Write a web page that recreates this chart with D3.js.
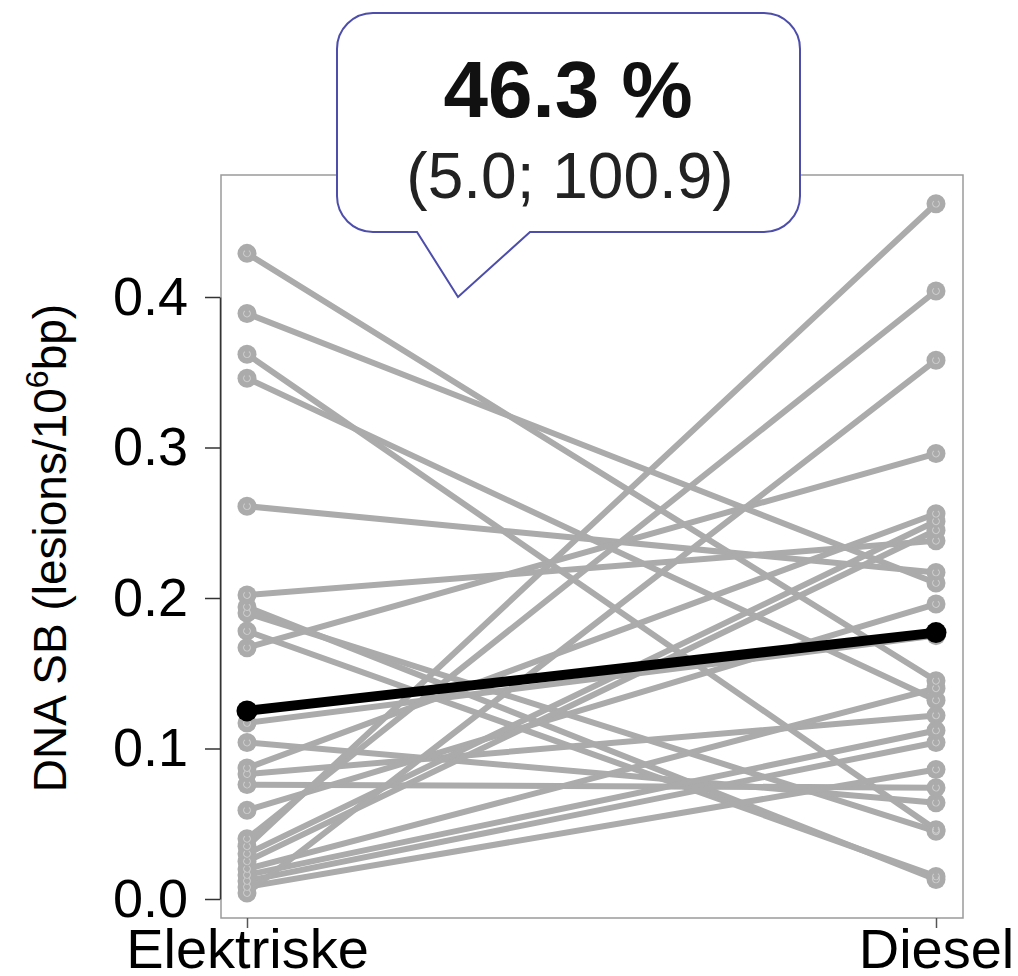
<!DOCTYPE html>
<html>
<head>
<meta charset="utf-8">
<script src="https://cdn.jsdelivr.net/npm/d3@7"></script>
<style>
  body { margin: 0; background: #fff; }
  svg { display: block; font-family: "Liberation Sans", Arial, sans-serif; }
</style>
</head>
<body>
<svg id="chart" width="1018" height="976"></svg>
<script>
// groups on the x axis
let groups = ['Elektriske', 'Diesel']
// each subject: value under electric vs diesel exposure
let elektriske = [0.429, 0.389, 0.362, 0.346, 0.261, 0.202, 0.194, 0.190, 0.178, 0.167,
    0.117, 0.104, 0.087, 0.083, 0.076, 0.059, 0.040, 0.035, 0.030, 0.025,
    0.020, 0.016, 0.012, 0.008, 0.004]
let diesel = [0.145, 0.210, 0.046, 0.132, 0.217, 0.238, 0.013, 0.045, 0.015, 0.296,
    0.175, 0.064, 0.256, 0.122, 0.074, 0.196, 0.404, 0.462, 0.251, 0.245,
    0.140, 0.112, 0.104, 0.086, 0.358]
let meanValues = [0.125, 0.177]
let yTicks = [0.0, 0.1, 0.2, 0.3, 0.4]
let changePct = 46.3
let changeCI = [5.0, 100.9]

const svg = d3.select('#chart')
let boxLeft = 221
let boxRight = 963
let boxTop = 175
let boxBottom = 918

let x = d3.scalePoint().domain(groups).range([247, 936])
let y = d3.scaleLinear().domain([0, 0.4]).range([899, 297])

// plot frame
svg.append('rect')
    .attr('x', boxLeft).attr('y', boxTop)
    .attr('width', boxRight - boxLeft).attr('height', boxBottom - boxTop)
    .style('fill', 'none').style('stroke', '#9a9a9a').style('stroke-width', 1.5)

let pairs = elektriske.map((v, i) => [v, diesel[i]])

svg.append('g').selectAll('line').data(pairs).enter()
    .append('line')
    .attr('x1', x(groups[0])).attr('x2', x(groups[1]))
    .attr('y1', d => y(d[0])).attr('y2', d => y(d[1]))
    .style('stroke', '#ababab').style('stroke-width', 6)
    .style('stroke-linecap', 'round')

let pts = []
pairs.forEach(p => {
    pts.push({g: groups[0], v: p[0]})
    pts.push({g: groups[1], v: p[1]})
})
svg.append('g').selectAll('circle').data(pts).enter()
    .append('circle')
    .attr('cx', d => x(d.g)).attr('cy', d => y(d.v))
    .attr('r', 9.5)
    .style('fill', '#ababab')
svg.append('g').selectAll('path').data(pts).enter()
    .append('path')
    .attr('transform', d => `translate(${x(d.g)},${y(d.v)})`)
    .attr('d', d3.arc()({innerRadius: 2.8, outerRadius: 3.9, startAngle: 0.6, endAngle: 5.6}))
    .style('fill', '#cdcdcd')

// mean line
svg.append('line')
    .attr('x1', x(groups[0])).attr('x2', x(groups[1]))
    .attr('y1', y(meanValues[0])).attr('y2', y(meanValues[1]))
    .style('stroke', '#000').style('stroke-width', 10)
svg.append('g').selectAll('circle').data(meanValues).enter()
    .append('circle')
    .attr('cx', (d, i) => x(groups[i])).attr('cy', d => y(d))
    .attr('r', 10.5)
    .style('fill', '#000')

// y axis
let yAxis = svg.append('g')
    .attr('transform', `translate(${boxLeft - 1},0)`)
    .call(d3.axisLeft(y).tickValues(yTicks).tickFormat(d3.format('.1f'))
        .tickSize(15).tickSizeOuter(0).tickPadding(17))
yAxis.selectAll('path, line').style('stroke', '#333').style('stroke-width', 1.5)
yAxis.selectAll('text').style('font-size', '54px').style('fill', '#000')
    .style('font-family', '"Liberation Sans", Arial, sans-serif')

// x axis
let xAxis = svg.append('g')
    .attr('transform', `translate(0,${boxBottom})`)
    .call(d3.axisBottom(x).tickSize(10).tickSizeOuter(0))
xAxis.selectAll('path, line').style('stroke', '#555').style('stroke-width', 1.5)
xAxis.select('.domain').remove()
xAxis.selectAll('text')
    .attr('y', 50).attr('dy', 0)
    .style('font-size', '56px').style('fill', '#000')
    .style('font-family', '"Liberation Sans", Arial, sans-serif')

// y axis title
let yTitle = svg.append('text')
    .attr('transform', 'translate(66,548) rotate(-90)')
    .attr('text-anchor', 'middle')
    .style('font-size', '46px').style('fill', '#000')
yTitle.append('tspan').text('DNA SB (lesions/10')
yTitle.append('tspan').attr('dy', -18).style('font-size', '32px').text('6')
yTitle.append('tspan').attr('dy', 18).text('bp)')

// callout bubble
let bx0 = 337, bx1 = 800, by0 = 13, by1 = 232, rad = 36
let tipX = 458, tipY = 297, baseL = 417, baseR = 530
let bubble = d3.path()
bubble.moveTo(bx0 + rad, by0)
bubble.lineTo(bx1 - rad, by0)
bubble.arcTo(bx1, by0, bx1, by0 + rad, rad)
bubble.lineTo(bx1, by1 - rad)
bubble.arcTo(bx1, by1, bx1 - rad, by1, rad)
bubble.lineTo(baseR, by1)
bubble.lineTo(tipX, tipY)
bubble.lineTo(baseL, by1)
bubble.lineTo(bx0 + rad, by1)
bubble.arcTo(bx0, by1, bx0, by1 - rad, rad)
bubble.lineTo(bx0, by0 + rad)
bubble.arcTo(bx0, by0, bx0 + rad, by0, rad)
bubble.closePath()
svg.append('path')
    .attr('d', bubble.toString())
    .style('fill', '#fff').style('stroke', '#4d4dac').style('stroke-width', 2)

svg.append('text')
    .attr('x', 568).attr('y', 117)
    .attr('text-anchor', 'middle')
    .style('font-size', '80px').style('font-weight', 'bold').style('fill', '#111')
    .text(`${changePct.toFixed(1)} %`)
svg.append('text')
    .attr('x', 570).attr('y', 198)
    .attr('text-anchor', 'middle')
    .style('font-size', '64px').style('fill', '#222')
    .text(`(${changeCI[0].toFixed(1)}; ${changeCI[1].toFixed(1)})`)
</script>
</body>
</html>
